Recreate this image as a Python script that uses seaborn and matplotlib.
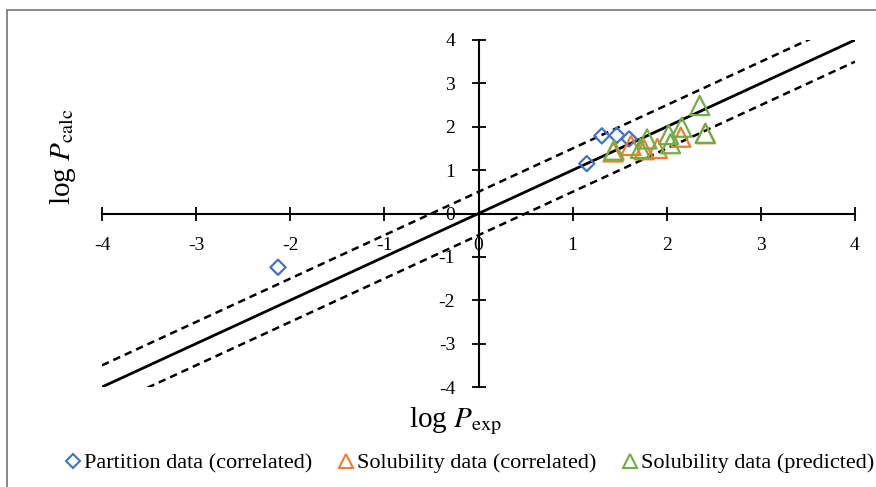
import matplotlib
matplotlib.use("Agg")
import matplotlib.pyplot as plt
import seaborn as sns
import numpy as np
import pandas as pd
from matplotlib.lines import Line2D

# Data
partition_x = [-2.13, 1.15, 1.31, 1.47, 1.60]
partition_y = [-1.24, 1.15, 1.79, 1.80, 1.72]
sol_corr_x = [1.43, 1.62, 1.76, 1.90, 2.15, 2.41]
sol_corr_y = [1.42, 1.57, 1.47, 1.50, 1.76, 1.84]
sol_pred_x = [1.44, 1.72, 1.79, 2.02, 2.04, 2.16, 2.35, 2.41]
sol_pred_y = [1.46, 1.50, 1.72, 1.82, 1.61, 1.99, 2.49, 1.85]
ticks = [-4, -3, -2, -1, 0, 1, 2, 3, 4]
series_names = ["Partition data (correlated)", "Solubility data (correlated)",
                "Solubility data (predicted)"]
colors = ["#4472C4", "#ED7D31", "#70AD47"]

sns.set_theme(style="white")
plt.rcParams['font.family'] = ['Liberation Serif', 'DejaVu Serif']
plt.rcParams['mathtext.fontset'] = 'stix'
plt.rcParams['text.color'] = 'black'

df = pd.concat([
    pd.DataFrame({"x": partition_x, "y": partition_y, "s": series_names[0]}),
    pd.DataFrame({"x": sol_corr_x, "y": sol_corr_y, "s": series_names[1]}),
    pd.DataFrame({"x": sol_pred_x, "y": sol_pred_y, "s": series_names[2]}),
])

fig = plt.figure(figsize=(8.76, 4.87), dpi=100)
ax = fig.add_axes([102/876, 1-387/487, (855-102)/876, (387-40)/487])

# reference lines
lx = np.array([-4, 4])
ax.plot(lx, lx, color="black", lw=2.0, zorder=1)
ax.plot(lx, lx + 0.5, color="black", lw=1.8, ls=(0, (3, 2)), zorder=1)
ax.plot(lx, lx - 0.5, color="black", lw=1.8, ls=(0, (3, 2)), zorder=1)

markers = {series_names[0]: "D", series_names[1]: "^", series_names[2]: "^"}
sizes = {series_names[0]: 60, series_names[1]: 190, series_names[2]: 190}
for name, col in zip(series_names, colors):
    sub = df[df.s == name]
    sns.scatterplot(data=sub, x="x", y="y", ax=ax, marker=markers[name],
                    s=sizes[name], facecolor="none", edgecolor=col,
                    linewidth=1.6, legend=False, zorder=3)

ax.set_xlim(-4, 4)
ax.set_ylim(-4, 4)
ax.set_xticks(ticks)
ax.set_yticks(ticks)
ax.set_xticklabels([str(t) for t in ticks])
ax.set_yticklabels([str(t) for t in ticks])
for sp in ["top", "right"]:
    ax.spines[sp].set_visible(False)
ax.spines["left"].set_position(("data", 0))
ax.spines["bottom"].set_position(("data", 0))
for sp in ["left", "bottom"]:
    ax.spines[sp].set_color("black")
    ax.spines[sp].set_linewidth(1.5)
ax.tick_params(axis="both", direction="inout", length=9.5, width=1.3,
               colors="black", labelsize=14, bottom=True, left=True)
ax.tick_params(axis="x", pad=12)
ax.tick_params(axis="y", pad=12)
ax.patch.set_alpha(0)
ax.set_xlabel("")
ax.set_ylabel("")

fig.text(456/876, 1-421/487, r"log $\mathit{P}_{\mathrm{exp}}$", ha="center",
         va="center", fontsize=21)
fig.text(63/876, 1-157/487, r"log $\mathit{P}_{\mathrm{calc}}$", ha="center",
         va="center", fontsize=21, rotation=90)

handles = [
    Line2D([], [], ls="none", marker="D", markersize=7, markerfacecolor="none",
           markeredgecolor=colors[0], markeredgewidth=1.5),
    Line2D([], [], ls="none", marker="^", markersize=10, markerfacecolor="none",
           markeredgecolor=colors[1], markeredgewidth=1.5),
    Line2D([], [], ls="none", marker="^", markersize=10, markerfacecolor="none",
           markeredgecolor=colors[2], markeredgewidth=1.5),
]
fig.legend(handles, series_names, loc="center", bbox_to_anchor=(468/876, 1-463/487),
           ncol=3, frameon=False, fontsize=16, handletextpad=0.0,
           columnspacing=1.0, handlelength=1.0, borderaxespad=0)

# chart area frame (left and top edges visible)
fig.add_artist(Line2D([7/876, 7/876], [0, 1-10/487], transform=fig.transFigure,
                      color="#7f7f7f", lw=1.3))
fig.add_artist(Line2D([7/876, 1], [1-10/487, 1-10/487], transform=fig.transFigure,
                      color="#7f7f7f", lw=1.3))

fig.savefig("out.png", dpi=100)
